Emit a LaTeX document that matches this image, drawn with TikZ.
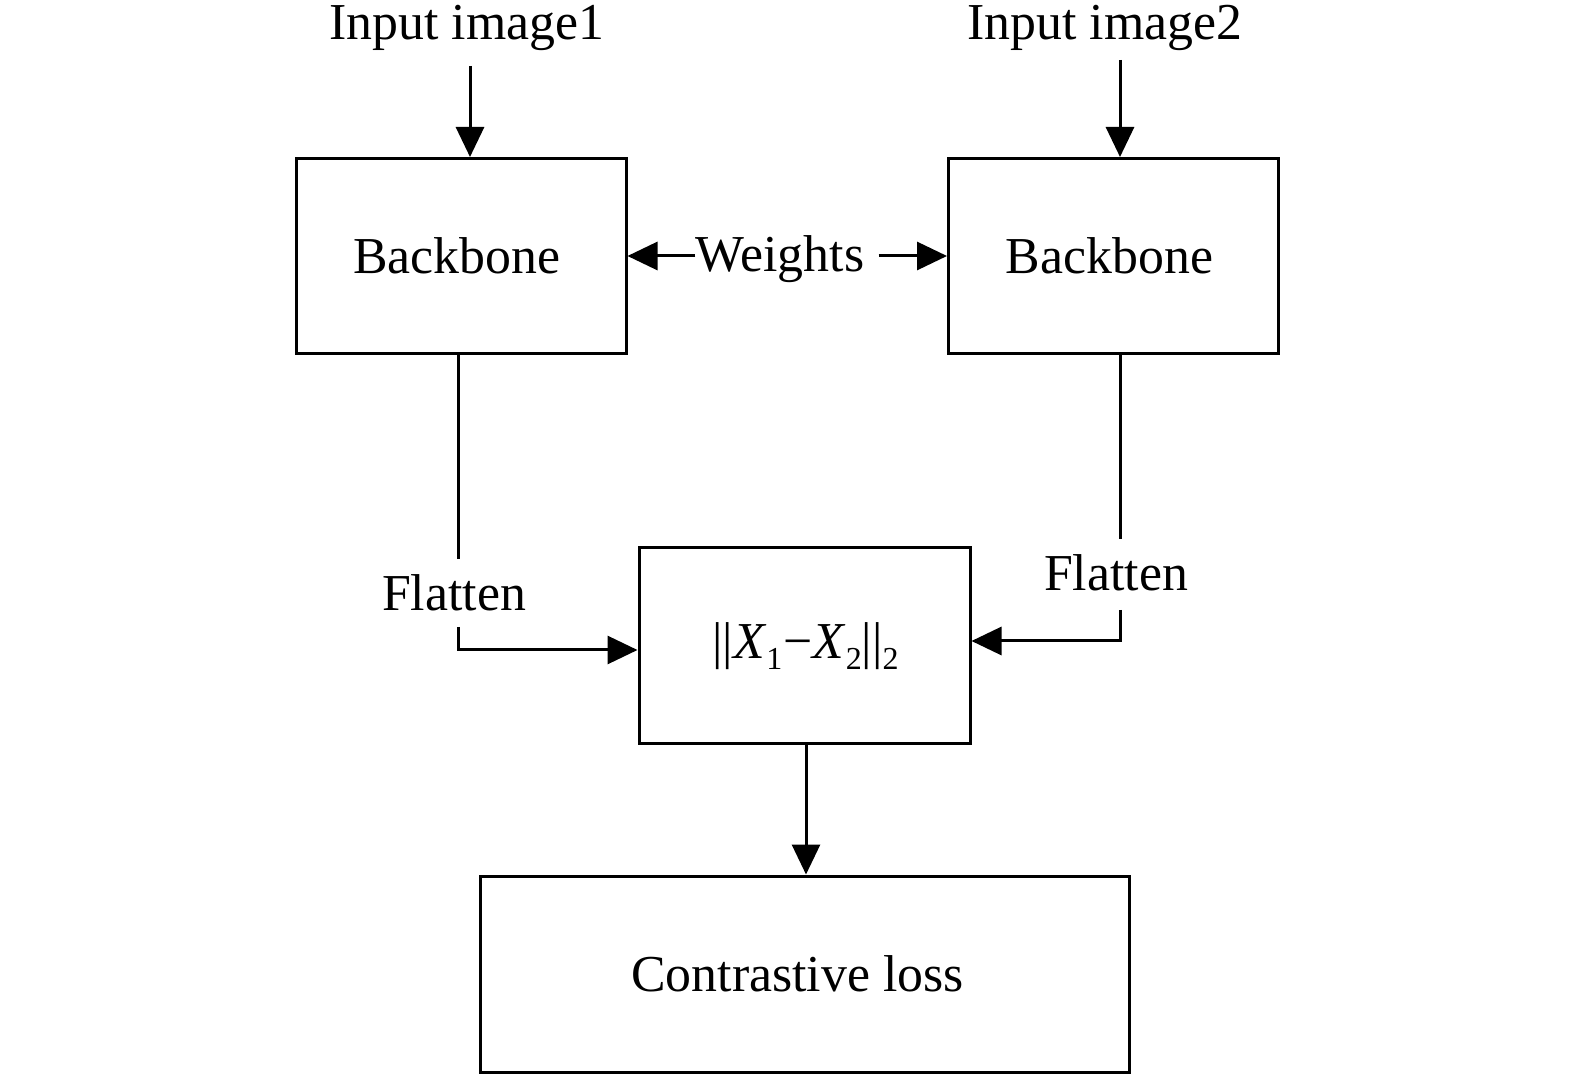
\documentclass[tikz,border=0pt]{standalone}
\usepackage{fontspec}
\setmainfont{Liberation Serif}
\usetikzlibrary{arrows.meta}
\newcommand{\lowsub}[1]{\raisebox{-0.22em}{\fontsize{16}{16}\selectfont #1}}
\begin{document}
\begin{tikzpicture}[x=0.5pt,y=-0.5pt,
  box/.style={draw,line width=1.5pt,minimum width=165pt,minimum height=97.5pt,inner sep=0pt},
  lbl/.style={inner sep=0pt,font=\fontsize{25.9}{30}\selectfont},
  con/.style={line width=1.5pt},
  arr/.style={line width=1.5pt,-{Triangle[length=15pt,width=14pt]}}]
\useasboundingbox (0,0) rectangle (1575,1074);
\node[box,lbl,minimum width=165pt,minimum height=97.5pt] (b1) at (461,256) {Backbone\hspace*{4pt}};
\node[box,lbl,minimum width=165pt,minimum height=97.5pt] (b2) at (1113.5,256) {Backbone\hspace*{4pt}};
\node[box,lbl,minimum width=165.5pt,minimum height=98pt] (d) at (804.5,646) {\hspace*{1pt}{\textbar\textbar}\textit{X}\lowsub{1}\kern0.5pt−\textit{X}\lowsub{2}{\textbar\textbar}\lowsub{2}};
\node[box,lbl,minimum width=324.5pt,minimum height=98pt] (c) at (804.5,974) {Contrastive loss\hspace*{7pt}};
\node[lbl] (in1) at (467,28) {Input image1};
\node[lbl] (in2) at (1105,28) {Input image2};
\node[lbl] (w) at (780,259) {Weights};
\node[lbl] (f1) at (454,593) {Flatten};
\node[lbl] (f2) at (1116,573) {Flatten};
\coordinate (t1) at (470,66);
\coordinate (t2) at (1120,60);
\draw[arr] (t1) -- (t1 |- b1.north);
\draw[arr] (t2) -- (t2 |- b2.north);
\draw[arr] (w.west |- b1.east) -- (b1.east);
\draw[arr] ([xshift=7pt]w.east |- b2.west) -- (b2.west);
\draw[con] (b1.south -| 458,0) -- (458,559);
\draw[arr] (458,627) -- (458,650) -- (d.west |- 0,650);
\draw[con] (b2.south -| 1120,0) -- (1120,539);
\draw[arr] (1120,610) -- (1120,641) -- (d.east |- 0,641);
\draw[arr] (d.south -| 806,0) -- (c.north -| 806,0);
\end{tikzpicture}
\end{document}
